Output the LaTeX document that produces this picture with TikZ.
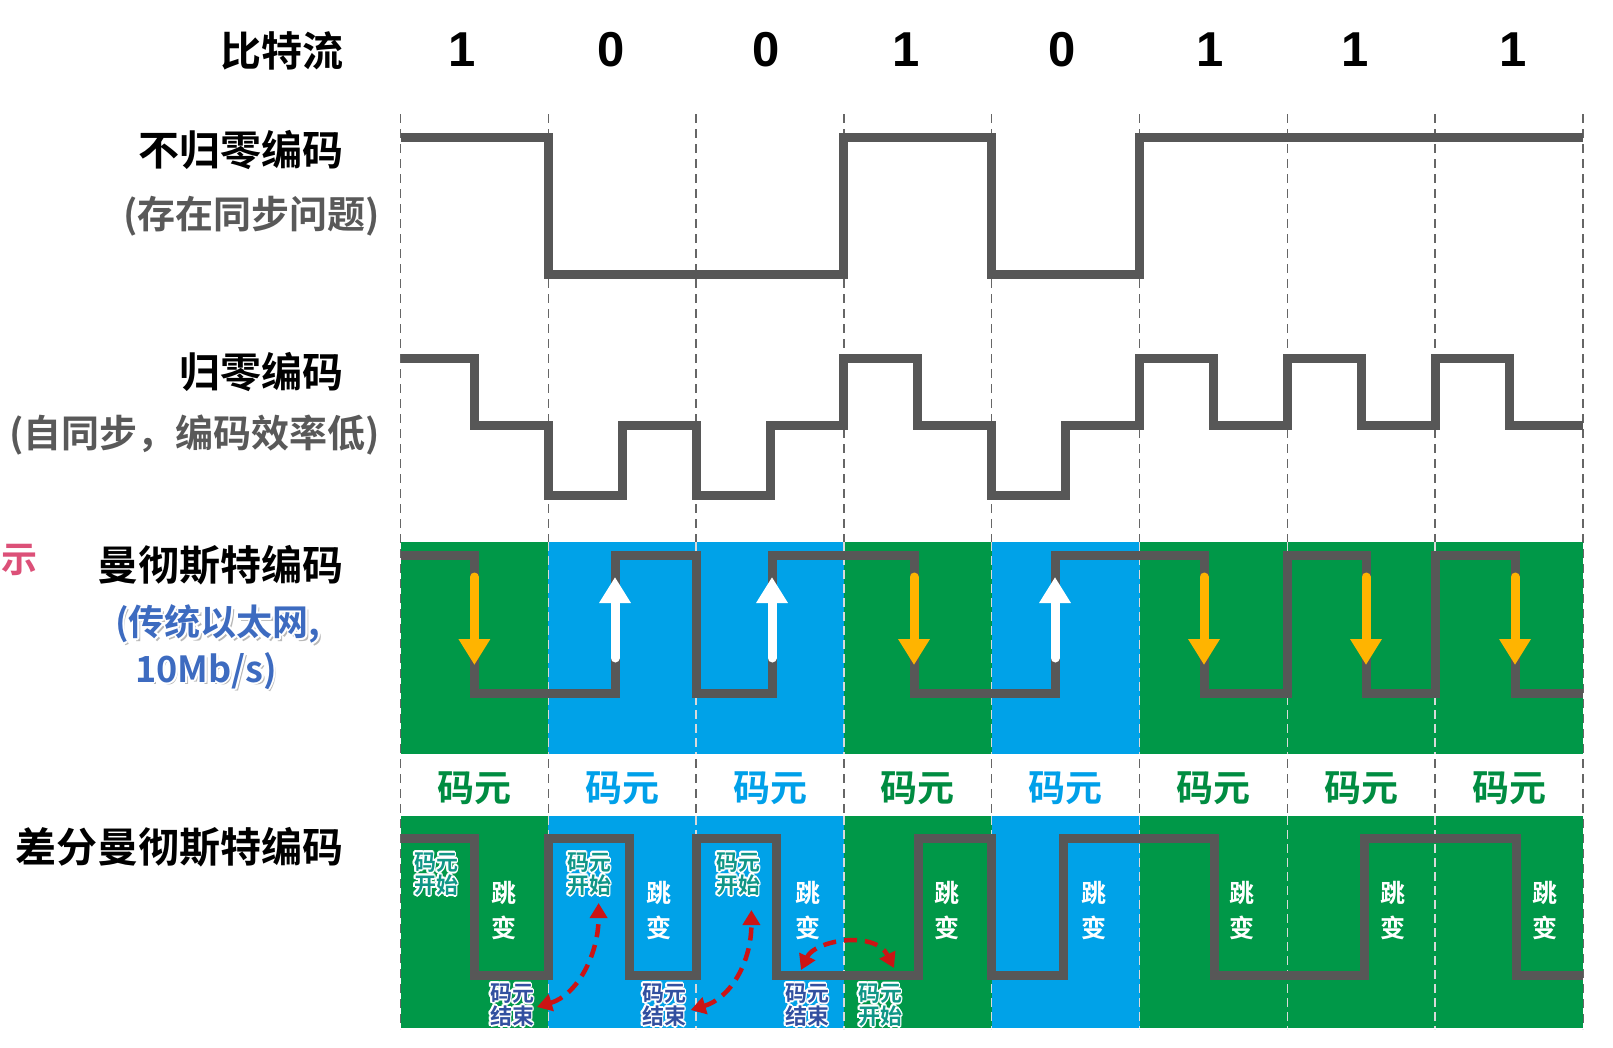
\documentclass[tikz,border=0pt]{standalone}
\usepackage{fontspec}
\usetikzlibrary{arrows.meta,calc}
\newfontfamily\cjk{Noto Sans CJK SC}[BoldFont={Noto Sans CJK SC Bold}]
\newfontfamily\lsans{Liberation Sans}
\definecolor{sigc}{RGB}{87,87,87}
\definecolor{greenc}{RGB}{0,152,72}
\definecolor{bluec}{RGB}{0,162,232}
\definecolor{orangec}{RGB}{255,180,0}
\definecolor{greent}{RGB}{0,140,65}
\definecolor{bluet}{RGB}{0,160,233}
\definecolor{subc}{RGB}{89,89,89}
\definecolor{bluelbl}{RGB}{61,107,192}
\definecolor{tealc}{RGB}{16,150,135}
\definecolor{navyc}{RGB}{50,80,160}
\definecolor{pinkc}{RGB}{220,80,120}
\definecolor{redc}{RGB}{204,20,20}
\newcommand\halonode[5]{%
  \foreach \hA in {0,30,...,330}{%
    \node[#3,text=white] (#1-h\hA) at ($(#2)+(\hA:#4)$) {#5};}
  \node[#3] (#1) at (#2) {#5};}
\newcommand\shadenode[4]{%
  \node[#3,text=black!28] (#1-s) at ($(#2)+(2.5pt,-2.5pt)$) {#4};}
\tikzset{
  sig/.style={line width=9pt, draw=sigc, line join=miter},
  dashline/.style={draw=black!60, line width=1.4pt, dash pattern=on 9pt off 6pt},
  wdash/.style={draw=white!85!black, line width=1.4pt, dash pattern=on 9pt off 5pt},
  lbl/.style={inner sep=0pt, font=\cjk\bfseries\fontsize{41}{45}\selectfont, text=black},
  sublbl/.style={inner sep=0pt, font=\cjk\bfseries\fontsize{38}{42}\selectfont, text=subc},
  digit/.style={inner sep=0pt, font=\lsans\bfseries\fontsize{49}{52}\selectfont, text=black},
  bluelabel/.style={inner sep=0pt, font=\cjk\bfseries\fontsize{36}{40}\selectfont, text=bluelbl},
  cell/.style={inner sep=0pt, font=\cjk\bfseries\fontsize{37}{40}\selectfont},
  small/.style={inner sep=0pt, align=center, font=\cjk\bfseries\fontsize{22}{23}\selectfont},
  jump/.style={inner sep=0pt, align=center, text=white, font=\cjk\bfseries\fontsize{25}{35}\selectfont},
  oarrow/.style={draw=orangec, line width=9pt, line cap=round, -{Triangle[width=30pt,length=26pt]}},
  warrow/.style={draw=white, line width=9pt, line cap=round, -{Triangle[width=30pt,length=26pt]}},
  redarrow/.style={draw=redc, line width=4.5pt, dash pattern=on 13pt off 8pt,
    {Triangle[width=17pt,length=15pt]}-{Triangle[width=17pt,length=15pt]}},
}
\begin{document}
\begin{tikzpicture}[x=1pt,y=-1pt]
\clip (0,0) rectangle (1613,1047);
\fill[white] (0,0) rectangle (1613,1047);
% dashed bit boundaries
\foreach \x in {400.5,548.3,696.1,843.9,991.7,1139.5,1287.3,1435.1,1582.9}
  \draw[dashline] (\x,114) -- (\x,1029);
% colour blocks
\foreach \l/\r/\c in {400.5/548.3/greenc,548.3/696.1/bluec,696.1/843.9/bluec,843.9/991.7/greenc,
   991.7/1139.5/bluec,1139.5/1287.3/greenc,1287.3/1435.1/greenc,1435.1/1582.9/greenc}{
  \fill[\c] (\l,542) rectangle (\r,754);
  \fill[\c] (\l,816) rectangle (\r,1028);}
\foreach \x in {548.3,696.1,843.9,991.7,1139.5,1287.3,1435.1}{
  \draw[wdash] (\x,542) -- (\x,754);
  \draw[wdash] (\x,816) -- (\x,1028);}
% NRZ
\draw[sig] (400.5,137) -- (548.3,137) -- (548.3,274) -- (843.9,274) -- (843.9,137) -- (991.7,137)
  -- (991.7,274) -- (1139.5,274) -- (1139.5,137) -- (1582.9,137);
% RZ
\draw[sig] (400.5,358) -- (474.4,358) -- (474.4,425) -- (548.3,425) -- (548.3,495) -- (622.2,495)
  -- (622.2,425) -- (696.1,425) -- (696.1,495) -- (770,495) -- (770,425) -- (843.9,425)
  -- (843.9,358) -- (917.8,358) -- (917.8,425) -- (991.7,425) -- (991.7,495) -- (1065.6,495)
  -- (1065.6,425) -- (1139.5,425) -- (1139.5,358) -- (1213.4,358) -- (1213.4,425) -- (1287.3,425)
  -- (1287.3,358) -- (1361.2,358) -- (1361.2,425) -- (1435.1,425) -- (1435.1,358) -- (1509,358)
  -- (1509,425) -- (1582.9,425);
% Manchester
\draw[sig] (400.5,555) -- (474.4,555) -- (474.4,693) -- (615,693) -- (615,555) -- (696.1,555)
  -- (696.1,693) -- (772,693) -- (772,555) -- (914,555) -- (914,693) -- (1055,693) -- (1055,555)
  -- (1204,555) -- (1204,693) -- (1287.3,693) -- (1287.3,555) -- (1366,555) -- (1366,693)
  -- (1435.1,693) -- (1435.1,555) -- (1515,555) -- (1515,693) -- (1582.9,693);
\foreach \x in {474.4,914,1204,1366,1515} \draw[oarrow] (\x,577) -- (\x,665);
\foreach \x in {615,772,1055} \draw[warrow] (\x,658) -- (\x,577);
% Differential Manchester
\draw[sig] (400.5,838) -- (474.4,838) -- (474.4,975) -- (548.3,975) -- (548.3,838) -- (629,838)
  -- (629,975) -- (696.1,975) -- (696.1,838) -- (776,838) -- (776,975) -- (918,975) -- (918,838)
  -- (991.7,838) -- (991.7,975) -- (1063,975) -- (1063,838) -- (1214,838) -- (1214,975)
  -- (1364,975) -- (1364,838) -- (1516,838) -- (1516,975) -- (1582.9,975);
% left labels
\node[lbl,anchor=east] (t0) at (344,51) {比特流};
\node[lbl,anchor=east] (t1) at (344,150) {不归零编码};
\node[sublbl,anchor=east] (t1s) at (380,216) {(存在同步问题)};
\node[lbl,anchor=east] (t2) at (344,372) {归零编码};
\node[sublbl,anchor=east] (t2s) at (380,435) {(自同步，编码效率低)};
\node[lbl,anchor=east] (t3) at (344,565) {曼彻斯特编码};
\shadenode{b1}{115,624}{bluelabel,anchor=west}{(传统以太网,}
\halonode{b1}{115,624}{bluelabel,anchor=west}{1.8pt}{(传统以太网,}
\shadenode{b2}{135,671}{bluelabel,anchor=west}{10Mb/s)}
\halonode{b2}{135,671}{bluelabel,anchor=west}{1.8pt}{10Mb/s)}
\halonode{pk}{38,559}{inner sep=0pt,anchor=east,text=pinkc,font=\cjk\bfseries\fontsize{36}{38}\selectfont}{1.8pt}{表示}
\node[lbl,anchor=east] (t4) at (344,847) {差分曼彻斯特编码};
% bits
\foreach \x/\b [count=\k] in {462/1,611/0,766/0,906/1,1062/0,1210/1,1355/1,1513/1}
  \node[digit] (d\k) at (\x,50) {\b};
% code-element row
\foreach \x/\c [count=\k] in {474.4/greent,622.2/bluet,770/bluet,917.8/greent,1065.6/bluet,1213.4/greent,1361.2/greent,1509/greent}
  \node[cell,text=\c] (c\k) at (\x,788) {码元};
% jump labels
\foreach \x [count=\k] in {504,658.6,807.7,947,1093.5,1241.6,1393,1545}
  \node[jump] (j\k) at (\x,911) {跳\\变};
% start / end labels
\halonode{cs0}{436,874}{small,text=tealc}{1.8pt}{码元\\开始}
\halonode{cs1}{589,874}{small,text=tealc}{1.8pt}{码元\\开始}
\halonode{cs2}{738,874}{small,text=tealc}{1.8pt}{码元\\开始}
\halonode{ce0}{512,1005}{small,text=navyc}{1.8pt}{码元\\结束}
\halonode{ce1}{664,1005}{small,text=navyc}{1.8pt}{码元\\结束}
\halonode{ce2}{807,1005}{small,text=navyc}{1.8pt}{码元\\结束}
\halonode{cs3}{880,1005}{small,text=tealc}{1.8pt}{码元\\开始}
% red dashed arrows
\coordinate (a1b) at (537,1007);
\coordinate (a1t) at (598.6,903);
\coordinate (a2b) at (690.7,1010);
\coordinate (a2t) at (751.4,910);
\coordinate (a3l) at (801,970);
\coordinate (a3r) at (894,968);
\draw[redarrow] (a1b) .. controls +(40,-12) and +(0,52) .. (a1t);
\draw[redarrow] (a2b) .. controls +(40,-12) and +(0,52) .. (a2t);
\draw[redarrow] (a3l) .. controls (815,940) and (875,930) .. (a3r);
\end{tikzpicture}
\end{document}
